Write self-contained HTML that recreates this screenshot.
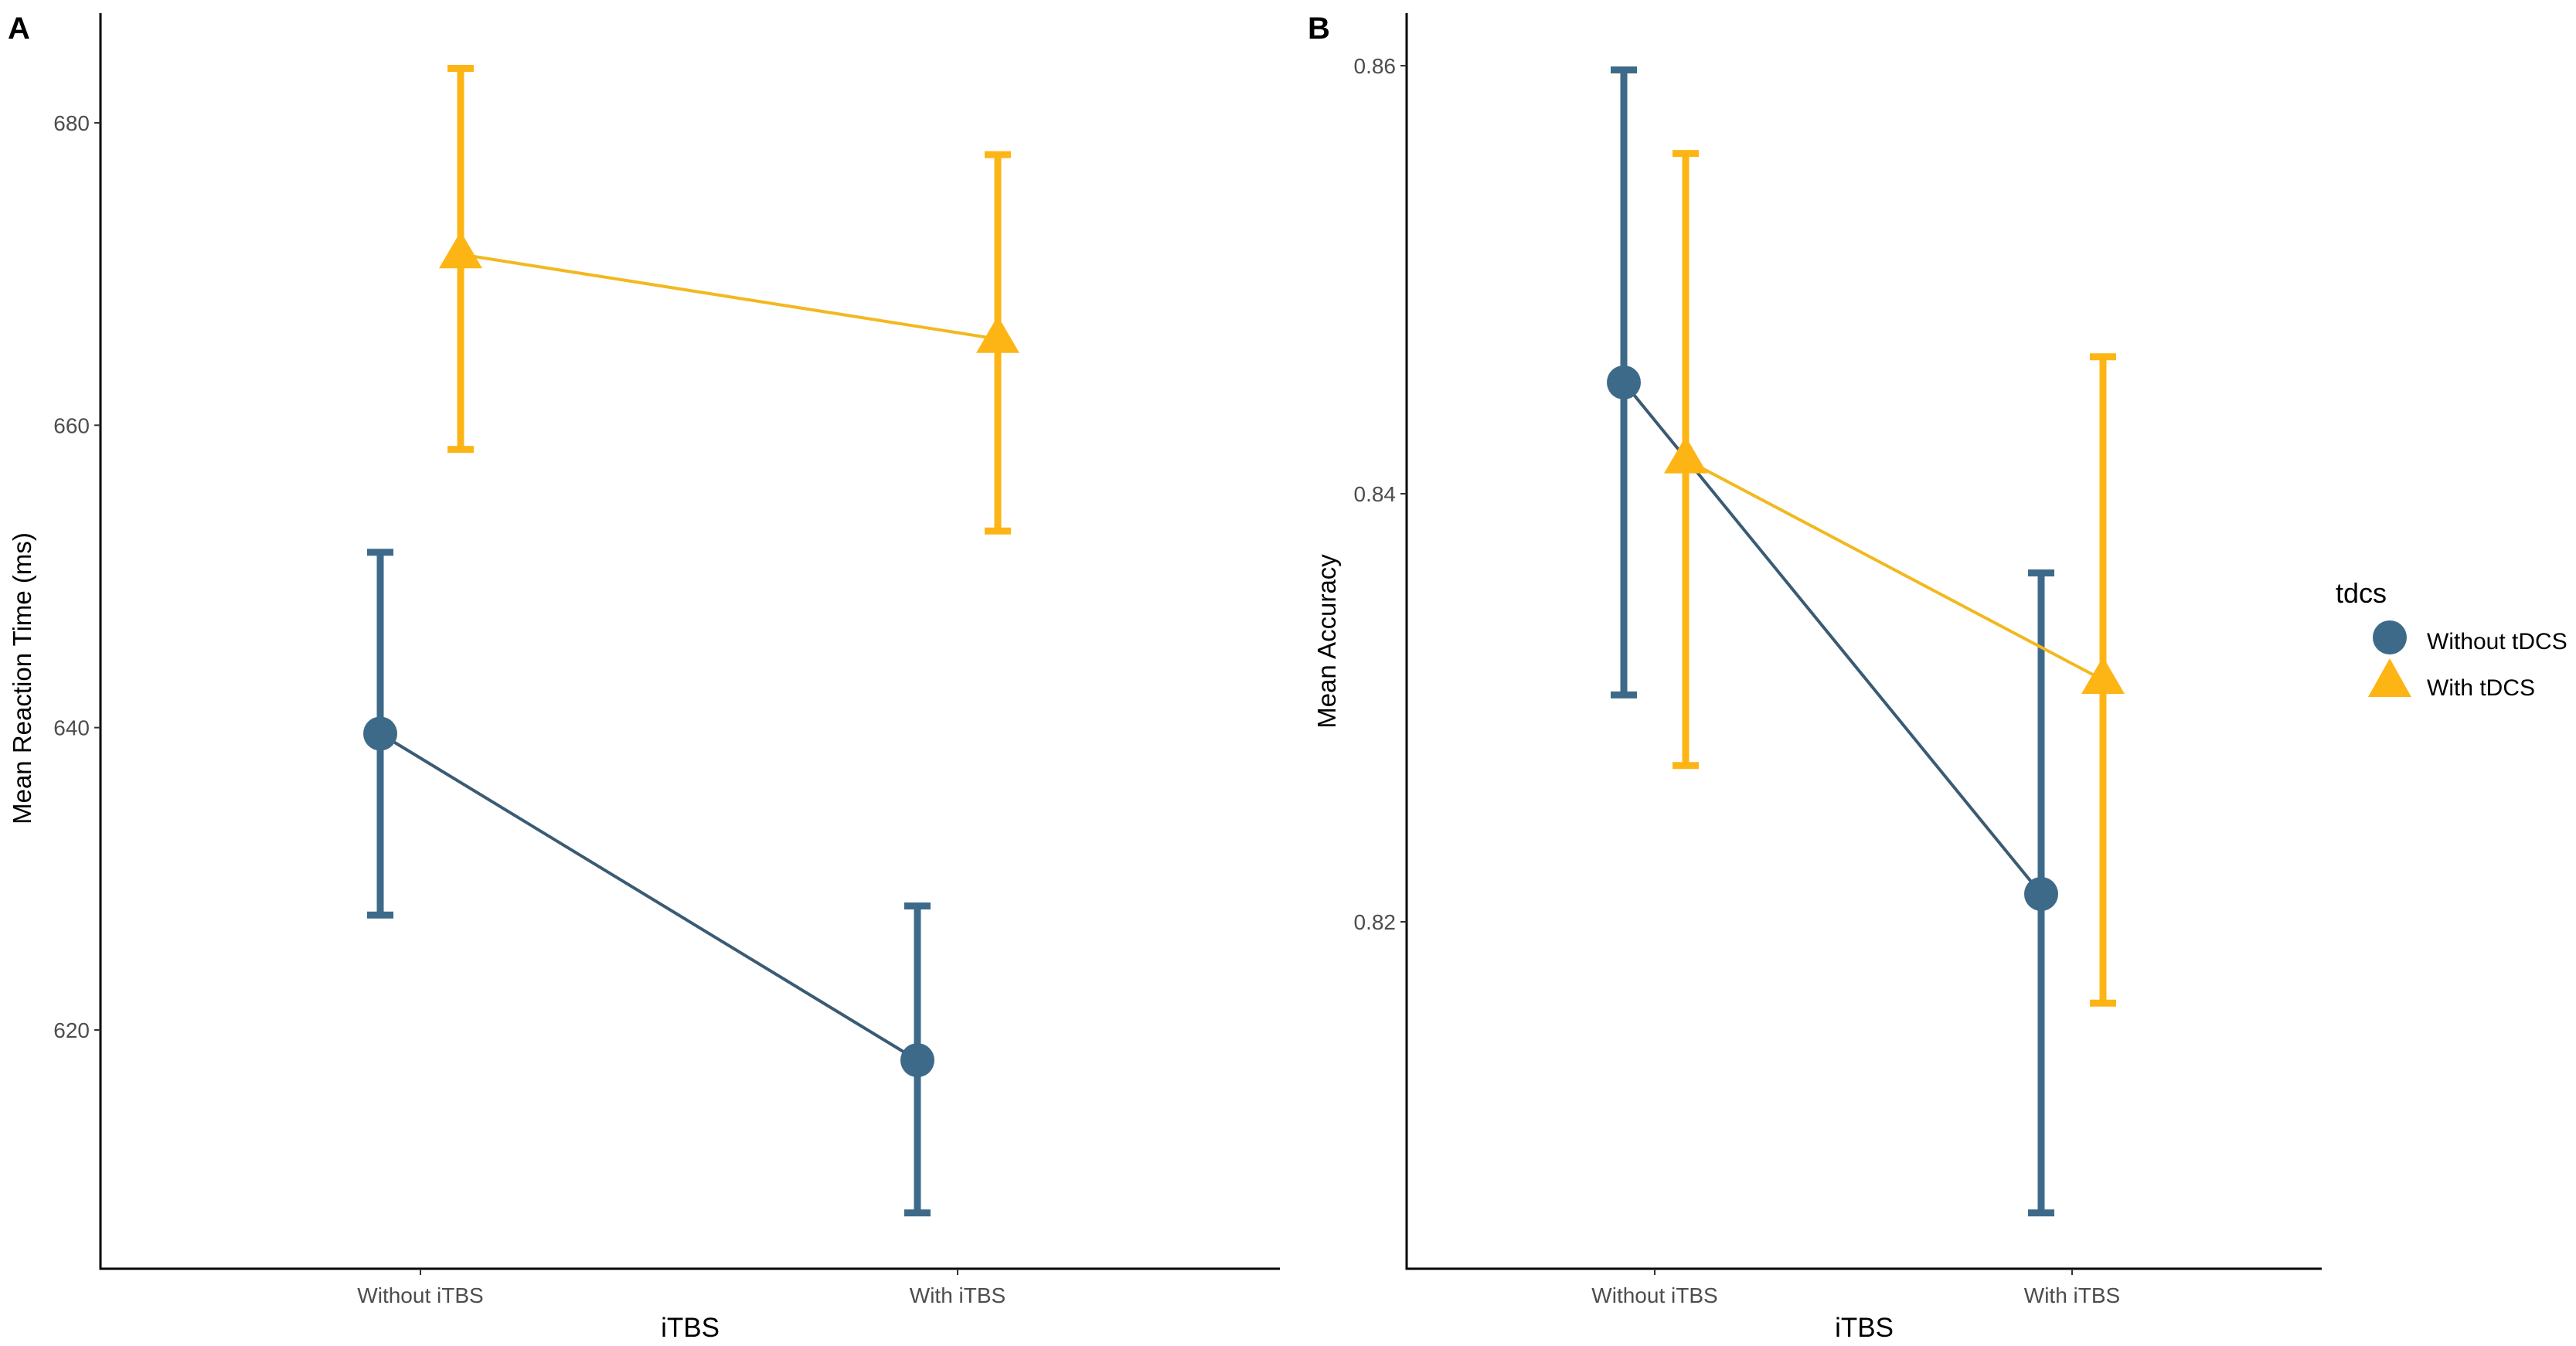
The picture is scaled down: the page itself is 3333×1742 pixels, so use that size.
<!DOCTYPE html>
<html><head><meta charset="utf-8"><style>
body{margin:0;background:#fff}
svg{display:block;font-family:"Liberation Sans",Arial,sans-serif}
</style></head><body>
<svg id="c" width="3333" height="1742" viewBox="0 0 3333 1742" xmlns="http://www.w3.org/2000/svg"></svg>
<script>
const categories = ["Without iTBS","With iTBS"];
const seriesNames = ["Without tDCS","With tDCS"];
// Panel A: reaction time
const rtMean = [[639.6,618.0],[671.3,665.7]];
const rtLow  = [[627.6,607.9],[658.4,653.0]];
const rtHigh = [[651.6,628.2],[683.6,677.9]];
const rtTicks = [620,640,660,680];
// Panel B: accuracy
const accMean = [[0.8452,0.8213],[0.8416,0.8313]];
const accLow  = [[0.8306,0.8064],[0.8273,0.8162]];
const accHigh = [[0.8598,0.8363],[0.8559,0.8464]];
const accTicks = [0.82,0.84,0.86];
const accTickLabels = ["0.82","0.84","0.86"];

const colors = ["#3e6a8a","#fdb515"];
const NS = "http://www.w3.org/2000/svg";
const svg = document.getElementById('c');
function mk(tag, attrs, parent, text){
  const e = document.createElementNS(NS, tag);
  for (const k in attrs) e.setAttribute(k, attrs[k]);
  if (text !== undefined) e.textContent = text;
  (parent||svg).appendChild(e);
  return e;
}
function panel(o){
  const g = mk('g', {});
  
  
  const y = v => o.y0 + (v - o.v0) * (o.y1 - o.y0) / (o.v1 - o.v0);
  const x = (ci, si) => o.cx[ci] + (si === 0 ? -o.dodge : o.dodge);
  // axes
  const ax = mk('path', {d:`M${o.left},${o.top} V1642 H${o.right}`, fill:'none', stroke:'#000', 'stroke-width':3}, g);
  
  
  o.ticks.forEach((t, i) => {
    const ty = y(t);
    mk('line', {x1:o.left-8, x2:o.left, y1:ty, y2:ty, stroke:'#333', 'stroke-width':2}, g);
    const tl = mk('text', {x:o.left-14, y:ty+10, 'font-size':28, fill:'#4d4d4d', 'text-anchor':'end'}, g, o.tickLabels[i]);
    
    
  });
  categories.forEach((c, i) => {
    mk('line', {x1:o.cx[i], x2:o.cx[i], y1:1642, y2:1650, stroke:'#333', 'stroke-width':2}, g);
    const tl = mk('text', {x:o.cx[i], y:1686, 'font-size':28, fill:'#4d4d4d', 'text-anchor':'middle'}, g, c);
    
    
  });
  const xt = mk('text', {x:(o.left+o.right)/2, y:1730, 'font-size':35, fill:'#000', 'text-anchor':'middle'}, g, 'iTBS');
  
  
  const yt = mk('text', {x:0, y:0, 'font-size':33, fill:'#000', 'text-anchor':'middle', transform:`translate(${o.ytx},${o.yty}) rotate(-90)`}, g, o.ytitle);
  
  
  const lab = mk('text', {x:o.labx, y:50, 'font-size':40, 'font-weight':'bold', fill:'#000'}, g, o.label);
  
  
  // series
  [0,1].forEach(si => {
    const col = colors[si];
    const ln = mk('line', {x1:x(0,si), y1:y(o.mean[si][0]), x2:x(1,si), y2:y(o.mean[si][1]), stroke: si===0?'#3a5b73':'#f2b81f', 'stroke-width':4}, g);
    
    
    [0,1].forEach(ci => {
      const px = x(ci,si), hi = y(o.high[si][ci]), lo = y(o.low[si][ci]);
      const eb = mk('path', {d:`M${px},${hi} V${lo} M${px-17},${hi} H${px+17} M${px-17},${lo} H${px+17}`, stroke:col, 'stroke-width':9, fill:'none'}, g);
      
      
      const py = y(o.mean[si][ci]);
      let m;
      if (si === 0) m = mk('circle', {cx:px, cy:py, r:22, fill:col}, g);
      else m = mk('polygon', {points:`${px},${py-30} ${px-28},${py+18} ${px+28},${py+18}`, fill:col}, g);
      
      
    });
  });
}
panel({name:'panel-a-reaction-time', left:130, right:1656, top:17, y0:1333, v0:620, y1:159, v1:680,
  cx:[544,1239], dodge:52, ticks:rtTicks, tickLabels:rtTicks.map(String), mean:rtMean, low:rtLow, high:rtHigh,
  ytitle:'Mean Reaction Time (ms)', ytx:40, yty:878, label:'A', labx:10});
panel({name:'panel-b-accuracy', left:1820, right:3004, top:17, y0:1193, v0:0.82, y1:85, v1:0.86,
  cx:[2141,2681], dodge:40, ticks:accTicks, tickLabels:accTickLabels, mean:accMean, low:accLow, high:accHigh,
  ytitle:'Mean Accuracy', ytx:1728, yty:830, label:'B', labx:1692});
// legend
const lg = mk('g', {});


const lt = mk('text', {x:3022, y:780, 'font-size':36, fill:'#000'}, lg, 'tdcs');


const c1 = mk('circle', {cx:3092, cy:825, r:22, fill:colors[0]}, lg);


const t1 = mk('text', {x:3140, y:840, 'font-size':30, fill:'#000'}, lg, seriesNames[0]);


const p2 = mk('polygon', {points:'3092,852 3064,902 3120,902', fill:colors[1]}, lg);


const t2 = mk('text', {x:3140, y:900, 'font-size':30, fill:'#000'}, lg, seriesNames[1]);


</script>
</body></html>
